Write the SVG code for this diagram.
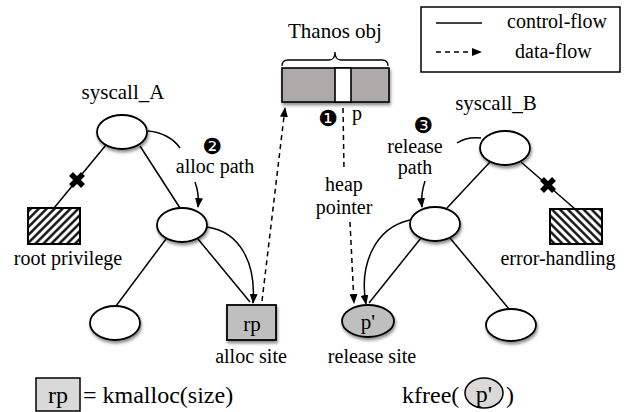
<svg xmlns="http://www.w3.org/2000/svg" width="624" height="412" viewBox="0 0 624 412">
  <style>
    text { font-family: "Liberation Serif", "Times New Roman", serif; fill: #000; }
    .lbl { font-size: 20px; }
    .big { font-size: 21px; }
    .fml { font-size: 24px; }
    .num { font-family: "DejaVu Sans", sans-serif; font-size: 22px; }
    .node { fill: #fff; stroke: #000; stroke-width: 1.8; }
    .site { fill: #bfbfbf; stroke: #000; stroke-width: 1.8; }
    .ctl { fill: none; stroke: #000; stroke-width: 1.5; }
    .data { fill: none; stroke: #000; stroke-width: 1.5; stroke-dasharray: 5 4; }
    .cross { stroke: #000; stroke-width: 5.5; }
  </style>
  <defs>
    <filter id="shadow" x="-30%" y="-30%" width="160%" height="170%">
      <feDropShadow dx="1" dy="2.5" stdDeviation="1.6" flood-color="#000" flood-opacity="0.45"/>
    </filter>
    <pattern id="hatchFwd" patternUnits="userSpaceOnUse" width="5.6" height="5.6" patternTransform="rotate(45)">
      <rect width="5.6" height="5.6" fill="#fff"/>
      <line x1="1.4" y1="0" x2="1.4" y2="5.6" stroke="#000" stroke-width="2.3"/>
    </pattern>
    <pattern id="hatchBack" patternUnits="userSpaceOnUse" width="5.6" height="5.6" patternTransform="rotate(-45)">
      <rect width="5.6" height="5.6" fill="#fff"/>
      <line x1="1.4" y1="0" x2="1.4" y2="5.6" stroke="#000" stroke-width="2.3"/>
    </pattern>
    <marker id="arrow" markerUnits="userSpaceOnUse" markerWidth="10" markerHeight="8" refX="9" refY="4" orient="auto">
      <path d="M0,0 L10,4 L0,8 Z" fill="#000"/>
    </marker>
  </defs>

  <!-- legend -->
  <g id="legend">
    <rect x="421" y="7" width="199" height="65" fill="#fff" stroke="#000" stroke-width="1.5"/>
    <line x1="436" y1="23" x2="482" y2="23" stroke="#000" stroke-width="1.5"/>
    <text class="lbl" x="507" y="28">control-flow</text>
    <line x1="436" y1="52" x2="481" y2="52" class="data" marker-end="url(#arrow)"/>
    <text class="lbl" x="515" y="58">data-flow</text>
  </g>

  <!-- heap object -->
  <g id="thanos-obj">
    <text class="big" x="335" y="38" text-anchor="middle">Thanos obj</text>
    <path d="M282,66 Q282,60 288,60 L329,60 Q335,60 335,52 Q335,60 341,60 L382,60 Q388,60 388,66" fill="none" stroke="#000" stroke-width="1.3"/>
    <rect x="282" y="68" width="107" height="34" fill="#aeaaaa" stroke="#000" stroke-width="1.6" filter="url(#shadow)"/>
    <rect x="335" y="68" width="16" height="34" fill="#fff" stroke="#000" stroke-width="1.6"/>
    <text class="num" x="328" y="126" text-anchor="middle">❶</text>
    <text class="lbl" x="352" y="120">p</text>
  </g>

  <!-- connectors -->
  <g id="connectors">
    <!-- syscall_A tree -->
    <line class="ctl" x1="106" y1="145" x2="54" y2="208"/>
    <line class="ctl" x1="140" y1="146" x2="180" y2="208"/>
    <line class="ctl" x1="166" y1="239" x2="116" y2="306"/>
    <line class="ctl" x1="198" y1="239" x2="250" y2="302"/>
    <path class="ctl" d="M148,131 C162,132 174,139 180,148"/>
    <path class="ctl" d="M195,182 C198,190 199,198 198,207" marker-end="url(#arrow)"/>
    <path class="ctl" d="M207,227 C242,232 256,266 253,303" marker-end="url(#arrow)"/>
    <!-- syscall_B tree -->
    <line class="ctl" x1="490" y1="162" x2="447" y2="208"/>
    <line class="ctl" x1="521" y1="162" x2="575" y2="209"/>
    <line class="ctl" x1="450" y1="238" x2="509" y2="309"/>
    <line class="ctl" x1="421" y1="238" x2="369" y2="303"/>
    <path class="ctl" d="M481,138 C472,137 463,139 457,143"/>
    <path class="ctl" d="M425,181 C422,190 421,198 422,207" marker-end="url(#arrow)"/>
    <path class="ctl" d="M410,220 C374,228 359,266 366,304" marker-end="url(#arrow)"/>
    <!-- data-flow -->
    <line class="data" x1="262" y1="301" x2="285" y2="108" marker-end="url(#arrow)"/>
    <line class="data" x1="343" y1="108" x2="344" y2="170"/>
    <line class="data" x1="350" y1="222" x2="354" y2="303" marker-end="url(#arrow)"/>
  </g>

  <!-- blocked branches -->
  <g id="cross-A">
    <line class="cross" x1="71" y1="174" x2="83" y2="186"/>
    <line class="cross" x1="83" y1="174" x2="71" y2="186"/>
  </g>
  <g id="cross-B">
    <line class="cross" x1="542" y1="179" x2="554" y2="191"/>
    <line class="cross" x1="554" y1="179" x2="542" y2="191"/>
  </g>

  <!-- syscall_A nodes -->
  <g id="syscall-A-root">
    <text class="big" x="123" y="99" text-anchor="middle">syscall_A</text>
    <ellipse class="node" cx="122" cy="132" rx="25" ry="17" filter="url(#shadow)"/>
  </g>
  <g id="root-privilege">
    <rect x="28" y="208" width="52" height="36" fill="url(#hatchFwd)" stroke="#000" stroke-width="2"/>
    <text class="lbl" x="68" y="265" text-anchor="middle">root privilege</text>
  </g>
  <g id="alloc-path-label">
    <text class="num" x="212" y="154" text-anchor="middle">❷</text>
    <text class="lbl" x="215" y="173" text-anchor="middle">alloc path</text>
  </g>
  <g id="syscall-A-mid">
    <ellipse class="node" cx="182" cy="225" rx="25" ry="17" filter="url(#shadow)"/>
  </g>
  <g id="syscall-A-leaf">
    <ellipse class="node" cx="115" cy="323" rx="25" ry="17" filter="url(#shadow)"/>
  </g>
  <g id="alloc-site">
    <rect x="227" y="305" width="49" height="35" class="site" filter="url(#shadow)"/>
    <text class="big" x="252" y="331" text-anchor="middle">rp</text>
    <text class="lbl" x="251" y="363" text-anchor="middle">alloc site</text>
  </g>

  <!-- pointer label -->
  <g id="heap-pointer-label">
    <text class="lbl" x="344" y="191" text-anchor="middle">heap</text>
    <text class="lbl" x="344" y="214" text-anchor="middle">pointer</text>
  </g>

  <!-- syscall_B nodes -->
  <g id="syscall-B-root">
    <text class="big" x="496" y="110" text-anchor="middle">syscall_B</text>
    <ellipse class="node" cx="505" cy="148" rx="25" ry="17" filter="url(#shadow)"/>
  </g>
  <g id="error-handling">
    <rect x="550" y="209" width="52" height="35" fill="url(#hatchBack)" stroke="#000" stroke-width="2"/>
    <text class="lbl" x="558" y="265" text-anchor="middle">error-handling</text>
  </g>
  <g id="release-path-label">
    <text class="num" x="423" y="133" text-anchor="middle">❸</text>
    <text class="lbl" x="415" y="153" text-anchor="middle">release</text>
    <text class="lbl" x="415" y="174" text-anchor="middle">path</text>
  </g>
  <g id="syscall-B-mid">
    <ellipse class="node" cx="435" cy="224" rx="25" ry="17" filter="url(#shadow)"/>
  </g>
  <g id="syscall-B-leaf">
    <ellipse class="node" cx="511" cy="325" rx="25" ry="16" filter="url(#shadow)"/>
  </g>
  <g id="release-site">
    <ellipse cx="368" cy="321" rx="26" ry="16" class="site" filter="url(#shadow)"/>
    <text class="big" x="368" y="329" text-anchor="middle">p'</text>
    <text class="lbl" x="372" y="363" text-anchor="middle">release site</text>
  </g>

  <!-- formulas -->
  <g id="kmalloc-formula">
    <rect x="36" y="378" width="44" height="33" fill="#d9d9d9" stroke="#000" stroke-width="1.5"/>
    <text class="fml" x="58" y="403" text-anchor="middle">rp</text>
    <text class="fml" x="83" y="403">= kmalloc(size)</text>
  </g>
  <g id="kfree-formula">
    <text class="fml" x="402" y="403">kfree(</text>
    <ellipse cx="484" cy="393" rx="19" ry="15" fill="#d9d9d9" stroke="#000" stroke-width="1.5"/>
    <text class="fml" x="484" y="402" text-anchor="middle">p'</text>
    <text class="fml" x="506" y="403">)</text>
  </g>
</svg>
